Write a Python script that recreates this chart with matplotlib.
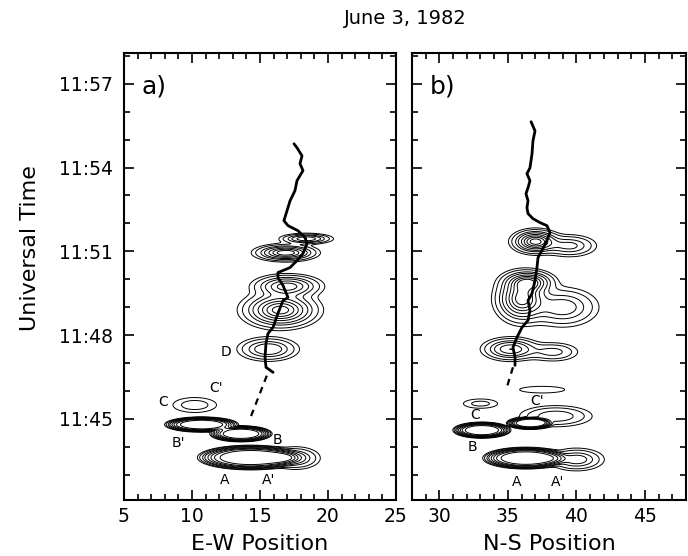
import numpy as np
import matplotlib
matplotlib.use("Agg")
import matplotlib.pyplot as plt
from matplotlib.ticker import MultipleLocator, FuncFormatter

# times are minutes after 11:00 UT

# --- E-W panel: centroid track (solid) and the gap bridged by a dashed line ---
ew_track_x = [17.5, 17.72, 18.09, 17.94, 18.16, 17.72, 17.57, 17.21, 16.99, 16.76,
              17.06, 17.79, 18.31, 18.46, 18.16, 17.72, 17.21, 16.32, 16.32, 16.69,
              17.06, 16.69, 16.32, 15.96, 15.59, 15.44, 15.37, 15.44, 15.96]
ew_track_t = [54.85, 54.71, 54.42, 54.14, 53.89, 53.53, 53.17, 52.81, 52.46, 52.1,
              51.92, 51.74, 51.49, 51.28, 50.92, 50.67, 50.42, 50.24, 50.06, 49.78,
              49.35, 49.24, 48.78, 48.28, 48.06, 47.71, 47.21, 46.85, 46.67]
ew_gap_x = [15.5, 14.3]
ew_gap_t = [46.55, 45.05]

# --- N-S panel ---
ns_track_x = [36.69, 36.98, 36.83, 36.76, 36.61, 36.39, 36.61, 36.47, 36.32, 36.47,
              36.39, 36.47, 36.83, 37.34, 37.85, 38.07, 37.85, 37.56, 37.2, 37.12,
              36.98, 36.76, 36.47, 36.61, 36.47, 36.03, 35.66, 35.37, 35.52, 35.52]
ns_track_t = [55.64, 55.31, 54.96, 54.49, 53.99, 53.78, 53.53, 53.28, 53.06, 52.81,
              52.56, 52.35, 52.17, 52.03, 51.92, 51.67, 51.39, 51.1, 50.78, 50.42,
              49.96, 49.49, 49.24, 48.89, 48.53, 48.28, 47.92, 47.56, 47.21, 46.92]
ns_gap_x = [35.37, 34.86]
ns_gap_t = [46.85, 46.03]

# emission components: centre, spread, peak, edge sharpness
ew_blob_x = [18.4, 16.9, 16.5, 17.0, 15.6, 10.2, 10.7, 13.6, 14.3, 17.6]
ew_blob_t = [51.45, 50.95, 48.9, 49.75, 47.5, 45.5, 44.8, 44.47, 43.62, 43.6]
ew_blob_sx = [0.9, 1.06, 1.3, 1.2, 1.1, 1.08, 1.6, 1.35, 2.3, 0.9]
ew_blob_st = [0.09, 0.14, 0.3, 0.2, 0.21, 0.18, 0.16, 0.17, 0.26, 0.2]
ew_blob_amp = [0.6, 0.9, 1.0, 0.7, 0.45, 0.15, 1.0, 1.0, 1.0, 0.4]
ew_blob_pow = [1, 1, 1, 1, 1, 1, 3, 3, 3, 1]

ns_blob_x = [37.0, 39.5, 36.0, 39.0, 36.5, 35.2, 38.3, 37.5, 33.0, 36.6, 38.5, 33.1, 36.3, 40.0]
ns_blob_t = [51.35, 51.2, 49.3, 49.0, 49.9, 47.5, 47.4, 46.05, 45.55, 44.85, 45.1, 44.6, 43.6, 43.55]
ns_blob_sx = [0.8, 1.0, 0.9, 1.3, 0.9, 1.0, 1.0, 1.4, 0.9, 1.0, 1.4, 1.25, 1.85, 1.0]
ns_blob_st = [0.2, 0.2, 0.4, 0.35, 0.2, 0.2, 0.18, 0.1, 0.12, 0.13, 0.2, 0.17, 0.23, 0.2]
ns_blob_amp = [1.0, 0.35, 1.0, 0.4, 0.8, 0.6, 0.25, 0.1, 0.13, 1.0, 0.3, 1.0, 1.0, 0.4]
ns_blob_pow = [1, 1, 1, 1, 1, 1, 1, 1, 1, 3, 1, 3, 3, 1]

levels = [0.05, 0.1, 0.2, 0.3, 0.45, 0.6, 0.75, 0.9]

ew_labels = ["A", "A'", "B", "B'", "C", "C'", "D"]
ew_label_x = [12.4, 15.6, 16.3, 9.0, 7.9, 11.8, 12.5]
ew_label_t = [42.8, 42.8, 44.25, 44.15, 45.6, 46.1, 47.4]

ns_labels = ["A", "A'", "B", "C", "C'"]
ns_label_x = [35.66, 38.66, 32.4, 32.6, 37.1]
ns_label_t = [42.75, 42.75, 44.0, 45.15, 45.65]

t_range = (42.1, 58.1)


def brightness(X, T, bx, bt, sx, st, amp, pw):
    z = np.zeros_like(X)
    for x0, t0, a, b, h, p in zip(bx, bt, sx, st, amp, pw):
        q = ((X - x0) / a) ** 2 + ((T - t0) / b) ** 2
        z += h * np.exp(-(q / 2.0) ** p)
    return z


def draw_panel(ax, xlim, track, gap, blobs, labels, tag):
    xs = np.linspace(xlim[0], xlim[1], 500)
    ts = np.linspace(t_range[0], t_range[1], 600)
    X, T = np.meshgrid(xs, ts)
    Z = brightness(X, T, *blobs)
    ax.contour(X, T, Z, levels=levels, colors='black', linewidths=0.7)
    ax.plot(track[0], track[1], color='black', lw=2.0, solid_capstyle='round')
    ax.plot(gap[0], gap[1], color='black', lw=1.6, ls=(0, (3, 2.5)))
    for s, x, t in zip(*labels):
        ax.text(x, t, s, fontsize=10, ha='center', va='center')
    ax.text(0.065, 0.924, tag, transform=ax.transAxes, fontsize=18,
            ha='left', va='center')

    ax.set_xlim(*xlim)
    ax.set_ylim(*t_range)
    ax.xaxis.set_major_locator(MultipleLocator(5))
    ax.xaxis.set_minor_locator(MultipleLocator(1))
    ax.yaxis.set_major_locator(MultipleLocator(3))
    ax.yaxis.set_minor_locator(MultipleLocator(1))
    ax.tick_params(which='both', direction='in', top=True, right=True, width=1.2)
    ax.tick_params(which='major', length=7, labelsize=13.5)
    ax.tick_params(axis='x', which='major', pad=5)
    ax.tick_params(axis='y', which='major', pad=8)
    ax.tick_params(which='minor', length=4)
    for sp in ax.spines.values():
        sp.set_linewidth(1.5)


fig = plt.figure(figsize=(6.88, 5.56), dpi=100)
ax1 = fig.add_axes([124 / 688, 56 / 556, 272 / 688, 447 / 556])
ax2 = fig.add_axes([412 / 688, 56 / 556, 274 / 688, 447 / 556])

draw_panel(ax1, (5, 25), (ew_track_x, ew_track_t), (ew_gap_x, ew_gap_t),
           (ew_blob_x, ew_blob_t, ew_blob_sx, ew_blob_st, ew_blob_amp, ew_blob_pow),
           (ew_labels, ew_label_x, ew_label_t), "a)")
draw_panel(ax2, (28, 48), (ns_track_x, ns_track_t), (ns_gap_x, ns_gap_t),
           (ns_blob_x, ns_blob_t, ns_blob_sx, ns_blob_st, ns_blob_amp, ns_blob_pow),
           (ns_labels, ns_label_x, ns_label_t), "b)")

ax1.yaxis.set_major_formatter(FuncFormatter(lambda v, p: "11:%02d" % round(v)))
ax2.tick_params(axis='y', labelleft=False)

ax1.set_xlabel("E-W Position", fontsize=16, labelpad=6)
ax2.set_xlabel("N-S Position", fontsize=16, labelpad=6)
fig.text(30 / 688, 1 - 248 / 556, "Universal Time", rotation=90, fontsize=16,
         ha='center', va='center')
fig.text(405 / 688, 1 - 18 / 556, "June 3, 1982", fontsize=14, ha='center', va='center')

fig.savefig("out.png", dpi=100)
